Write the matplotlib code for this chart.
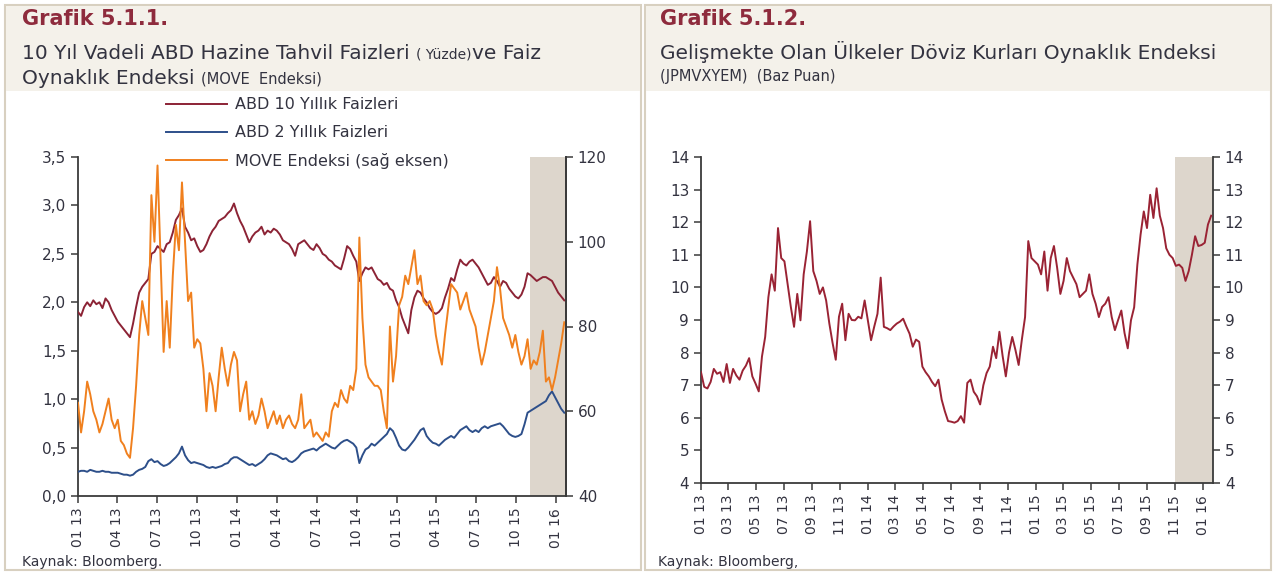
import numpy as np
import pandas as pd
import matplotlib
matplotlib.use("Agg")
import matplotlib.pyplot as plt
import matplotlib.dates as mdates
from matplotlib.patches import Rectangle
from matplotlib.lines import Line2D
from matplotlib.ticker import FuncFormatter, MultipleLocator

# weekly observations, Jan 2013 - Jan 2016 (one row = one quarter)
dates = pd.date_range("2013-01-01", periods=160, freq="7D")

t10 = [1.90, 1.86, 1.95, 2.00, 1.96, 2.02, 1.98, 2.00, 1.94, 2.04, 2.00, 1.92, 1.86,
       1.80, 1.76, 1.72, 1.68, 1.64, 1.78, 1.95, 2.10, 2.16, 2.20, 2.24, 2.50, 2.52,
       2.58, 2.55, 2.52, 2.60, 2.62, 2.72, 2.85, 2.90, 2.97, 2.78, 2.72, 2.64, 2.66,
       2.58, 2.52, 2.54, 2.60, 2.68, 2.74, 2.78, 2.84, 2.86, 2.88, 2.92, 2.95, 3.02,
       2.92, 2.84, 2.78, 2.70, 2.62, 2.68, 2.72, 2.74, 2.78, 2.70, 2.74, 2.72, 2.76,
       2.74, 2.70, 2.64, 2.62, 2.60, 2.55, 2.48, 2.60, 2.62, 2.64, 2.60, 2.56, 2.54,
       2.60, 2.56, 2.50, 2.48, 2.44, 2.42, 2.38, 2.36, 2.34, 2.45, 2.58, 2.55, 2.48,
       2.42, 2.22, 2.30, 2.36, 2.34, 2.36, 2.30, 2.24, 2.22, 2.18, 2.20, 2.14, 2.12,
       2.02, 1.95, 1.84, 1.76, 1.68, 1.92, 2.05, 2.12, 2.10, 2.04, 2.00, 1.94, 1.90,
       1.88, 1.90, 1.94, 2.05, 2.14, 2.25, 2.22, 2.34, 2.44, 2.40, 2.38, 2.42, 2.44,
       2.40, 2.36, 2.30, 2.24, 2.18, 2.20, 2.26, 2.22, 2.16, 2.22, 2.20, 2.14, 2.10,
       2.06, 2.04, 2.08, 2.16, 2.30, 2.28, 2.25, 2.22, 2.24, 2.26, 2.26, 2.24, 2.22,
       2.16, 2.10, 2.06, 2.02]

t2 = [0.25, 0.26, 0.26, 0.25, 0.27, 0.26, 0.25, 0.25, 0.26, 0.25, 0.25, 0.24, 0.24,
      0.24, 0.23, 0.22, 0.22, 0.21, 0.22, 0.25, 0.27, 0.28, 0.30, 0.36, 0.38, 0.35,
      0.36, 0.33, 0.31, 0.32, 0.34, 0.37, 0.40, 0.44, 0.51, 0.42, 0.37, 0.34, 0.35,
      0.34, 0.33, 0.32, 0.30, 0.29, 0.30, 0.29, 0.30, 0.31, 0.33, 0.34, 0.38, 0.40,
      0.40, 0.38, 0.36, 0.34, 0.32, 0.33, 0.31, 0.33, 0.35, 0.38, 0.42, 0.44, 0.43,
      0.42, 0.40, 0.38, 0.39, 0.36, 0.35, 0.37, 0.40, 0.44, 0.46, 0.47, 0.48, 0.49,
      0.47, 0.50, 0.52, 0.54, 0.52, 0.50, 0.49, 0.52, 0.55, 0.57, 0.58, 0.56, 0.54,
      0.50, 0.34, 0.42, 0.48, 0.50, 0.54, 0.52, 0.55, 0.58, 0.61, 0.64, 0.70, 0.67,
      0.60, 0.52, 0.48, 0.47, 0.50, 0.54, 0.58, 0.63, 0.68, 0.70, 0.62, 0.58, 0.55,
      0.54, 0.52, 0.55, 0.58, 0.60, 0.62, 0.60, 0.64, 0.68, 0.70, 0.72, 0.68, 0.66,
      0.68, 0.66, 0.70, 0.72, 0.70, 0.72, 0.73, 0.74, 0.75, 0.72, 0.68, 0.64, 0.62,
      0.61, 0.62, 0.64, 0.74, 0.86, 0.88, 0.90, 0.92, 0.94, 0.96, 0.98, 1.04, 1.08,
      1.02, 0.96, 0.90, 0.86]

move = [62, 55, 60, 67, 64, 60, 58, 55, 57, 60, 63, 58, 56,
        58, 53, 52, 50, 49, 56, 66, 78, 86, 82, 78, 111, 100,
        118, 96, 74, 86, 75, 92, 104, 98, 114, 100, 86, 88, 75,
        77, 76, 70, 60, 69, 66, 60, 68, 75, 70, 66, 71, 74,
        72, 60, 64, 67, 58, 60, 57, 59, 63, 60, 56, 58, 60,
        57, 59, 56, 58, 59, 57, 56, 58, 64, 56, 57, 58, 54,
        55, 54, 53, 55, 54, 60, 62, 61, 65, 63, 62, 66, 65,
        70, 101, 82, 71, 68, 67, 66, 66, 65, 60, 56, 80, 67,
        73, 85, 87, 92, 90, 94, 98, 90, 92, 86, 85, 86, 84,
        78, 74, 71, 78, 84, 90, 89, 88, 84, 86, 88, 84, 82,
        80, 75, 71, 74, 78, 82, 86, 94, 89, 82, 80, 78, 75,
        78, 74, 71, 73, 77, 70, 72, 71, 74, 79, 67, 68, 65,
        68, 72, 76, 81]

em = [7.40, 6.95, 6.90, 7.10, 7.50, 7.35, 7.40, 7.10, 7.65, 7.07, 7.50, 7.30, 7.17,
      7.45, 7.60, 7.83, 7.27, 7.05, 6.81, 7.88, 8.48, 9.70, 10.40, 9.90, 11.82, 10.90,
      10.80, 10.10, 9.40, 8.79, 9.80, 8.99, 10.40, 11.10, 12.03, 10.50, 10.20, 9.80, 10.00,
      9.60, 8.89, 8.30, 7.78, 9.10, 9.50, 8.38, 9.19, 9.00, 8.99, 9.10, 9.05, 9.60,
      9.00, 8.38, 8.80, 9.19, 10.30, 8.79, 8.75, 8.69, 8.80, 8.89, 8.95, 9.04, 8.80,
      8.58, 8.18, 8.40, 8.33, 7.57, 7.40, 7.27, 7.10, 6.97, 7.17, 6.56, 6.20, 5.90,
      5.88, 5.85, 5.90, 6.05, 5.85, 7.07, 7.17, 6.80, 6.66, 6.41, 7.00, 7.37, 7.57,
      8.18, 7.83, 8.64, 7.90, 7.27, 8.00, 8.48, 8.08, 7.62, 8.40, 9.09, 11.42, 10.90,
      10.80, 10.70, 10.40, 11.10, 9.90, 10.90, 11.27, 10.60, 9.80, 10.20, 10.90, 10.50, 10.30,
      10.10, 9.70, 9.80, 9.90, 10.40, 9.80, 9.50, 9.09, 9.40, 9.50, 9.70, 9.09, 8.69,
      9.00, 9.29, 8.60, 8.13, 8.99, 9.39, 10.70, 11.62, 12.33, 11.82, 12.84, 12.13, 13.04,
      12.20, 11.82, 11.20, 11.00, 10.90, 10.66, 10.70, 10.60, 10.20, 10.50, 11.00, 11.57, 11.27,
      11.30, 11.37, 11.93, 12.20]

labels = ["ABD 10 Yıllık Faizleri", "ABD 2 Yıllık Faizleri", "MOVE Endeksi (sağ eksen)"]
shade_start = pd.Timestamp("2015-11-01")

RED = "#8c2335"
BLUE = "#2d4f8a"
ORANGE = "#f0801e"
SHADE = "#ddd6cc"
TXT = "#333340"
AX = "#3a3a3a"

plt.rcParams['font.family'] = ['DejaVu Sans']

W, H = 1276, 574
fig = plt.figure(figsize=(12.76, 5.74), dpi=100)
rend = fig.canvas.get_renderer()


def fx(px):
    return px / W


def fy(py):
    return 1 - py / H


def text_run(x, y, parts, **kw):
    # write pieces of different sizes one after another on the same baseline
    for s, size in parts:
        t = fig.text(fx(x), fy(y), s, fontsize=size, color=TXT, va="baseline", **kw)
        x = t.get_window_extent(rend).x1


# panel frames and header bands
for x0, x1 in [(5, 641), (645, 1271)]:
    fig.patches.append(Rectangle((fx(x0), fy(570)), (x1 - x0) / W, 565 / H, transform=fig.transFigure,
                                 fc="white", ec="#d8d0c0", lw=1.5, zorder=-2))
    fig.patches.append(Rectangle((fx(x0) + 0.001, fy(91)), (x1 - x0) / W - 0.002, 85 / H, transform=fig.transFigure,
                                 fc="#f4f1ea", ec="none", zorder=-1))

# titles
fig.text(fx(22), fy(19), "Grafik 5.1.1.", fontsize=15, fontweight="bold", color="#8e2b3d", va="center")
text_run(22, 59, [("10 Yıl Vadeli ABD Hazine Tahvil Faizleri ", 14.5), ("( Yüzde)", 10), ("ve Faiz", 14.5)])
text_run(22, 84, [("Oynaklık Endeksi ", 14.5), ("(MOVE  Endeksi)", 10.5)])

fig.text(fx(660), fy(19), "Grafik 5.1.2.", fontsize=15, fontweight="bold", color="#8e2b3d", va="center")
text_run(660, 59, [("Gelişmekte Olan Ülkeler Döviz Kurları Oynaklık Endeksi", 14.5)])
text_run(660, 81, [("(JPMVXYEM)  (Baz Puan)", 10.5)])

text_run(22, 566, [("Kaynak: Bloomberg.", 10)])
text_run(658, 566, [("Kaynak: Bloomberg,", 10)])


def style_axis(ax):
    ax.spines["top"].set_visible(False)
    for s in ["left", "right", "bottom"]:
        ax.spines[s].set_color(AX)
        ax.spines[s].set_linewidth(1.3)
    ax.tick_params(axis="both", colors=AX, labelcolor=TXT, labelsize=11, length=5, width=1.1, direction="out")
    ax.tick_params(axis="x", labelrotation=90, labelsize=10)


end = dates[-1] + pd.Timedelta(days=4)

# ---- left chart
ax1 = fig.add_axes([fx(78), fy(496), 488 / W, 339 / H])
ax1.axvspan(shade_start, end, color=SHADE, lw=0, zorder=0)
ax1.plot(dates, t10, color=RED, lw=1.4, zorder=3)
ax1.plot(dates, t2, color=BLUE, lw=1.4, zorder=3)
ax1.set_ylim(0, 3.5)
ax1.yaxis.set_major_locator(MultipleLocator(0.5))
ax1.yaxis.set_major_formatter(FuncFormatter(lambda v, p: f"{v:.1f}".replace(".", ",")))
ax1.set_xlim(pd.Timestamp("2013-01-01"), end)
ax1.xaxis.set_major_locator(mdates.MonthLocator(bymonth=[1, 4, 7, 10]))
ax1.xaxis.set_major_formatter(mdates.DateFormatter("%m %y"))
style_axis(ax1)

ax2 = ax1.twinx()
ax2.plot(dates, move, color=ORANGE, lw=1.4, zorder=2)
ax2.set_ylim(40, 120)
ax2.yaxis.set_major_locator(MultipleLocator(20))
style_axis(ax2)
ax2.spines["left"].set_visible(False)
ax2.spines["bottom"].set_visible(False)

handles = [Line2D([], [], color=RED, lw=1.4), Line2D([], [], color=BLUE, lw=1.4),
           Line2D([], [], color=ORANGE, lw=1.4)]
fig.legend(handles, labels, loc="upper left", bbox_to_anchor=(fx(152), fy(83)), frameon=False,
           fontsize=11.5, handlelength=3.8, handletextpad=0.5, labelspacing=0.8, labelcolor=TXT)

# ---- right chart
ax3 = fig.add_axes([fx(701), fy(483), 512 / W, 326 / H])
ax3.axvspan(shade_start, end, color=SHADE, lw=0, zorder=0)
ax3.plot(dates, em, color="#9a2334", lw=1.4, zorder=3)
ax3.set_ylim(4, 14)
ax3.yaxis.set_major_locator(MultipleLocator(1))
ax3.set_xlim(pd.Timestamp("2013-01-01"), end)
ax3.xaxis.set_major_locator(mdates.MonthLocator(bymonth=[1, 3, 5, 7, 9, 11]))
ax3.xaxis.set_major_formatter(mdates.DateFormatter("%m %y"))
style_axis(ax3)
ax3.tick_params(axis="y", right=True, labelright=True)

fig.savefig("out.png", dpi=100)
